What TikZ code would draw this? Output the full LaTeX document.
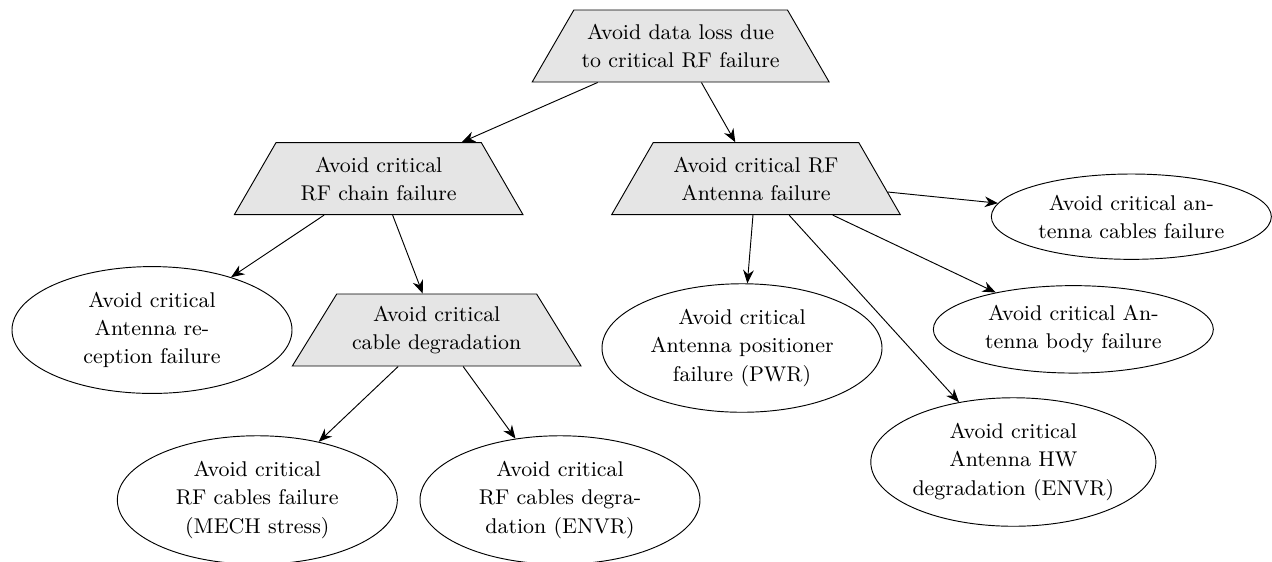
\documentclass[tikz,border=0pt]{standalone}
\usepackage{tikz}
\usetikzlibrary{shapes, shapes.geometric, arrows.meta, positioning}

\begin{document}
\begin{tikzpicture}[
        font=\fontsize{9.1}{12}\selectfont,
        goal/.style={
          trapezium,
          trapezium left angle=55,
          trapezium right angle=55,
          trapezium stretches body,
          draw,
          fill=gray!20,
          align=center,
          minimum width=4.33cm,
          minimum height=1.08cm
        },
        subgoal/.style={
          ellipse,
          draw,
          align=center,
          inner xsep=0pt,
          inner ysep=3pt,
          minimum width=4.2cm,
          minimum height=1.28cm
        },
        line/.style={-{Stealth[length=2mm, width=1.6mm]}}
    ]
    \useasboundingbox (0,0) rectangle (19.08,-8.415);

    % Define the nodes
    \node[goal] (dataLoss) at (10.21,-0.69) {Avoid data loss due\\to critical RF failure};
    \node[goal] (rfChain) at (5.68,-2.68) {Avoid critical\\RF chain failure};
    \node[goal] (rfAntenna) at (11.34,-2.68) {Avoid critical RF\\Antenna failure};
    \node[goal] (cableDeg) at (6.55,-4.95) {Avoid critical\\cable degradation};

    \node[subgoal] (reception) at (2.28,-4.95) {Avoid critical\\Antenna re-\\ception failure};
    \node[subgoal] (cablesMech) at (3.86,-7.5) {Avoid critical\\RF cables failure\\(MECH stress)};
    \node[subgoal] (cablesEnvr) at (8.40,-7.5) {Avoid critical\\RF cables degra-\\dation (ENVR)};
    \node[subgoal] (positioner) at (11.13,-5.22) {Avoid critical\\Antenna positioner\\failure (PWR)};
    \node[subgoal] (antCables) at (16.97,-3.25) {Avoid critical an-\\tenna cables failure};
    \node[subgoal] (antBody) at (16.10,-4.94) {Avoid critical An-\\tenna body failure};
    \node[subgoal] (antHW) at (15.20,-6.93) {Avoid critical\\Antenna HW\\degradation (ENVR)};

    % Connect the nodes
    \draw[line] (dataLoss) -- (rfChain);
    \draw[line] (dataLoss) -- (rfAntenna);
    \draw[line] (rfChain) -- (reception);
    \draw[line] (rfChain) -- (cableDeg);
    \draw[line] (cableDeg) -- (cablesMech);
    \draw[line] (cableDeg) -- (cablesEnvr);
    \draw[line] (rfAntenna) -- (positioner);
    \draw[line] (rfAntenna) -- (antHW);
    \draw[line] (rfAntenna) -- (antBody);
    \draw[line] (rfAntenna) -- (antCables);

    \end{tikzpicture}
\end{document}
